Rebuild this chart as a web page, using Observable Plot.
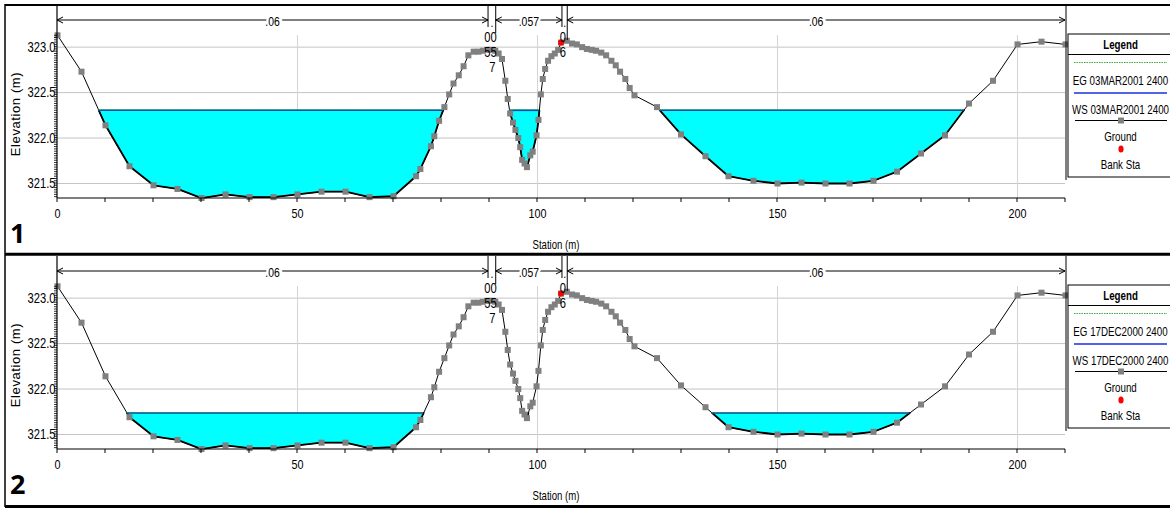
<!DOCTYPE html>
<html><head><meta charset="utf-8">
<script src="https://cdn.jsdelivr.net/npm/d3@7"></script>
<script src="https://cdn.jsdelivr.net/npm/@observablehq/plot@0.6"></script>
<style>
body{margin:0;background:#fff;}
#root{position:relative;width:1170px;height:508px;overflow:hidden;background:#fff;}
.panel{position:absolute;left:0;width:1170px;height:252px;}
#frame{position:absolute;left:0;top:0;pointer-events:none;}
</style></head><body><div id="root"></div>
<script>
// ---- data ----
const station = [0,5,10,15,20,25,30,35,40,45,50,55,60,65,70,74.7,75.6,77.8,78.5,79.5,80.6,81.6,82.5,83.6,84.6,85.6,86.7,87.7,88.6,89.5,90.4,91.2,91.9,92.6,93.3,93.8,94.3,94.9,95.4,96.0,96.4,96.8,97.3,97.8,98.5,99.0,99.8,100.2,100.7,101.1,101.6,102.2,102.9,103.6,104.3,104.9,106.1,107.2,108.2,109.3,110.3,111.3,112.2,113.3,114.3,115.4,116.3,117.2,118.3,119.2,120.2,124.9,129.9,135.0,139.8,145,150,155,160,165,170,174.9,179.9,184.9,189.9,194.9,200,205,210];
const elevation = [323.13,322.73,322.14,321.69,321.48,321.44,321.34,321.38,321.35,321.35,321.38,321.41,321.41,321.35,321.36,321.58,321.66,321.91,322.02,322.19,322.34,322.48,322.60,322.69,322.79,322.91,322.95,322.95,322.96,322.97,322.97,322.96,322.93,322.87,322.63,322.43,322.27,322.17,322.09,322.00,321.90,321.76,321.72,321.68,321.81,321.85,322.03,322.20,322.48,322.65,322.76,322.85,322.90,322.93,322.97,323.05,323.07,323.04,323.03,323.00,322.98,322.97,322.96,322.94,322.91,322.85,322.80,322.73,322.65,322.55,322.47,322.34,322.04,321.80,321.58,321.53,321.50,321.51,321.50,321.50,321.53,321.63,321.83,322.03,322.38,322.63,323.03,323.06,323.03];
const bankStation = [104.9];
const bankElevation = [323.05];
const panelLabels = ["1","2"];
const profileNames = ["03MAR2001 2400","17DEC2000 2400"];
const wsElev = [322.305, 321.736];
const egElev = [322.311, 321.741];
const roughStart = [0, 91.4, 106.3];
const roughEnd = [89.8, 105.2, 210];
const roughValue = [".06", ".057", ".06"];
const leftBankText = ["00","55","7"];
const rightBankText = ["0","6"];
const xTicks = [0,50,100,150,200];
const yTicks = [321.5,322.0,322.5,323.0];

const FONT = '"Liberation Sans",Arial,sans-serif';
const SQUEEZE = 0.8;
const root = d3.select("#root");

// narrow the Plot axis labels (no narrow font installed)
function squeezeAxis(svgNode){
  d3.select(svgNode).selectAll("g[aria-label$='tick label'] text").each(function(){
    const w = this.getComputedTextLength();
    if (w > 0) { this.setAttribute("textLength", (w*SQUEEZE).toFixed(2)); this.setAttribute("lengthAdjust","spacingAndGlyphs"); }
  });
}

function build(p) {
  const ws = wsElev[p], eg = egElev[p];
  const ground = station.map((s,i)=>({x:s, y:elevation[i]}));
  const fillPts = [], crossings = [];
  for (let i=0;i<ground.length;i++){
    fillPts.push(ground[i]);
    if (i<ground.length-1){
      const a=ground[i], b=ground[i+1];
      if ((a.y-ws)*(b.y-ws)<0){
        const xc = a.x + (ws-a.y)/(b.y-a.y)*(b.x-a.x);
        fillPts.push({x:xc, y:ws});
        crossings.push(xc);
      }
    }
  }
  const wet = [];
  for (let k=0;k+1<crossings.length;k+=2) wet.push({a:crossings[k], b:crossings[k+1]});
  const wetGround = [];
  fillPts.forEach(d=>{
    const k = wet.findIndex(w=>d.x>=w.a-1e-9 && d.x<=w.b+1e-9);
    if (k>=0) wetGround.push({x:d.x, y:d.y, k});
  });
  const bank = bankStation.map((s,i)=>({x:s,y:bankElevation[i]}));

  const plot = Plot.plot({
    width:1170, height:252,
    marginLeft:57, marginRight:105, marginTop:35, marginBottom:54,
    x:{domain:[0,210]},
    y:{domain:[321.335,323.128]},
    style:{fontFamily:FONT, fontSize:"13px", background:"transparent", color:"#000"},
    marks:[
      Plot.ruleY(yTicks,{stroke:"#c4c4c4", strokeWidth:1}),
      Plot.ruleX(xTicks.slice(1),{stroke:"#d4d4d4", strokeWidth:1}),
      Plot.areaY(fillPts,{x:"x", y1:()=>ws, y2:d=>Math.min(d.y,ws), fill:"#00ffff", curve:"linear"}),
      Plot.line(ground,{x:"x", y:"y", stroke:"#000", strokeWidth:1}),
      Plot.line(wetGround,{x:"x", y:"y", z:"k", stroke:"#000", strokeWidth:1.8}),
      Plot.ruleY(wet,{y:()=>ws, x1:"a", x2:"b", stroke:"#1040c0", strokeWidth:1.6}),
      Plot.ruleY(wet,{y:()=>eg, x1:"a", x2:"b", stroke:"#2a9a2a", strokeWidth:1, strokeDasharray:"1.5,1"}),
      Plot.dot(ground,{x:"x", y:"y", symbol:"square", r:3.4, fill:"#808080", stroke:null}),
      Plot.dot(bank,{x:"x", y:"y", r:3, fill:"#ff0000", stroke:null}),
      Plot.axisX({ticks:xTicks, tickSize:0, tickPadding:10, label:null, fontSize:13.5}),
      Plot.axisY({ticks:yTicks, tickSize:0, tickPadding:2, tickFormat:".1f", label:null, fontSize:14})
    ]
  });

  const div = root.append("div").attr("class","panel").style("top", (p*251)+"px");
  div.node().appendChild(plot);
  const svg = d3.select(plot);
  const sx = plot.scale("x").apply, sy = plot.scale("y").apply;
  const x0 = sx(0), x1 = sx(210), yb = sy(321.335);
  const g = svg.append("g").attr("fill","none").attr("stroke","#000");

  g.append("line").attr("x1",x0).attr("x2",x0).attr("y1",5).attr("y2",yb).attr("stroke-width",1.2);
  g.append("line").attr("x1",x0).attr("x2",x1).attr("y1",yb).attr("y2",yb).attr("stroke-width",1.2);
  d3.range(0,211,10).forEach(v=>{
    g.append("line").attr("x1",sx(v)).attr("x2",sx(v)).attr("y1",yb).attr("y2",yb+4);
  });
  d3.range(321.35,323.13,0.025).forEach(v=>{
    g.append("line").attr("x1",x0-3).attr("x2",x0).attr("y1",sy(v)).attr("y2",sy(v)).attr("stroke-width",0.8);
  });

  // text helper: narrowed via a horizontal scale transform (no narrow font installed)
  const t = (parent, cx, y, s, opts={}) => {
    const k = opts.nosqueeze ? 1 : SQUEEZE;
    const anchor = opts.anchor || "middle";
    const el = parent.append("text")
      .attr("transform", `translate(${cx},${y}) scale(${k},1)`)
      .attr("x",0).attr("y",0).attr("dy","0.35em")
      .attr("text-anchor",anchor).attr("font-size",opts.size||13)
      .attr("font-family",opts.font||FONT).attr("font-weight",opts.weight||null)
      .attr("fill","#000").text(s);
    if (opts.halo) el.attr("stroke","#fff").attr("stroke-width",6).attr("paint-order","stroke");
    return el;
  };

  // roughness annotations
  const ya = 20;
  const arrow = (x, dir) => {
    g.append("path").attr("d",`M${x+dir*6},${ya-3}L${x},${ya}L${x+dir*6},${ya+3}`).attr("stroke-width",1);
  };
  roughStart.forEach((s,i)=>{
    const a = sx(s), b = sx(roughEnd[i]);
    g.append("line").attr("x1",a).attr("x2",b).attr("y1",ya).attr("y2",ya).attr("stroke-width",1);
    arrow(a, 1); arrow(b, -1);
  });
  const vline = (x,ya1,ya2) => g.append("line").attr("x1",x).attr("x2",x).attr("y1",ya1).attr("y2",ya2).attr("stroke-width",1);
  vline(sx(89.8),5,27); vline(sx(91.4),5,33);
  vline(sx(105.2),5,27); vline(sx(106.3),5,40);
  vline(x1+1,5,180);
  roughStart.forEach((s,i)=>{
    t(svg, (sx(s)+sx(roughEnd[i]))/2, ya+1, roughValue[i], {halo:true});
  });
  t(svg, (sx(89.8)+sx(91.4))/2, 22, ".");
  t(svg, (sx(105.2)+sx(106.3))/2, 22, ".");
  leftBankText.forEach((s,i)=>t(svg, sx(90.3)+(i===2?2:0), 37+i*15, s, {size:14}));
  rightBankText.forEach((s,i)=>t(svg, sx(105.4), 37+i*15, s, {size:14}));

  svg.append("text").attr("transform",`translate(15,114) rotate(-90)`).attr("text-anchor","middle")
     .attr("dy","0.35em").attr("font-size",13).attr("letter-spacing","0.6px")
     .attr("font-family",FONT).attr("fill","#000").text("Elevation (m)");
  t(svg, 556, 245, "Station (m)", {size:12});
  t(svg, 10, 234, panelLabels[p], {anchor:"start", size:27, weight:"bold", nosqueeze:true, font:'"Open Sans","Liberation Sans",Arial,sans-serif'});

  // legend
  const L = svg.append("g");
  L.append("rect").attr("x",1068).attr("y",34).attr("width",110).attr("height",143).attr("fill","#fff").attr("stroke","#000");
  const lt = (y,s,w) => t(L, 1120.5, y, s, {size:12.2, weight:w});
  lt(45,"Legend","bold");
  L.append("line").attr("x1",1068).attr("x2",1172).attr("y1",54.5).attr("y2",54.5).attr("stroke","#000");
  L.append("line").attr("x1",1074).attr("x2",1167).attr("y1",62.5).attr("y2",62.5).attr("stroke","#3ea83e").attr("stroke-dasharray","1.5,1");
  lt(81,"EG "+profileNames[p]);
  L.append("line").attr("x1",1074).attr("x2",1167).attr("y1",93).attr("y2",93).attr("stroke","#1a2fe0").attr("stroke-width",1.3);
  lt(110,"WS "+profileNames[p]);
  L.append("line").attr("x1",1075).attr("x2",1167).attr("y1",120.5).attr("y2",120.5).attr("stroke","#000");
  L.append("rect").attr("x",1118).attr("y",117.5).attr("width",6).attr("height",6).attr("fill","#808080");
  lt(137,"Ground");
  L.append("ellipse").attr("cx",1121).attr("cy",149).attr("rx",2.6).attr("ry",3.6).attr("fill","#ff0000");
  lt(165,"Bank Sta");

  squeezeAxis(plot);
}
build(0); build(1);

const f = root.append("svg").attr("id","frame").attr("width",1170).attr("height",508);
f.append("line").attr("x1",5).attr("x2",1170).attr("y1",5).attr("y2",5).attr("stroke","#000").attr("stroke-width",2);
f.append("line").attr("x1",5).attr("x2",5).attr("y1",4).attr("y2",507).attr("stroke","#000").attr("stroke-width",1.5);
f.append("line").attr("x1",5).attr("x2",1170).attr("y1",254.3).attr("y2",254.3).attr("stroke","#000").attr("stroke-width",3);
f.append("line").attr("x1",5).attr("x2",1170).attr("y1",506.5).attr("y2",506.5).attr("stroke","#000").attr("stroke-width",3);
</script></body></html>
